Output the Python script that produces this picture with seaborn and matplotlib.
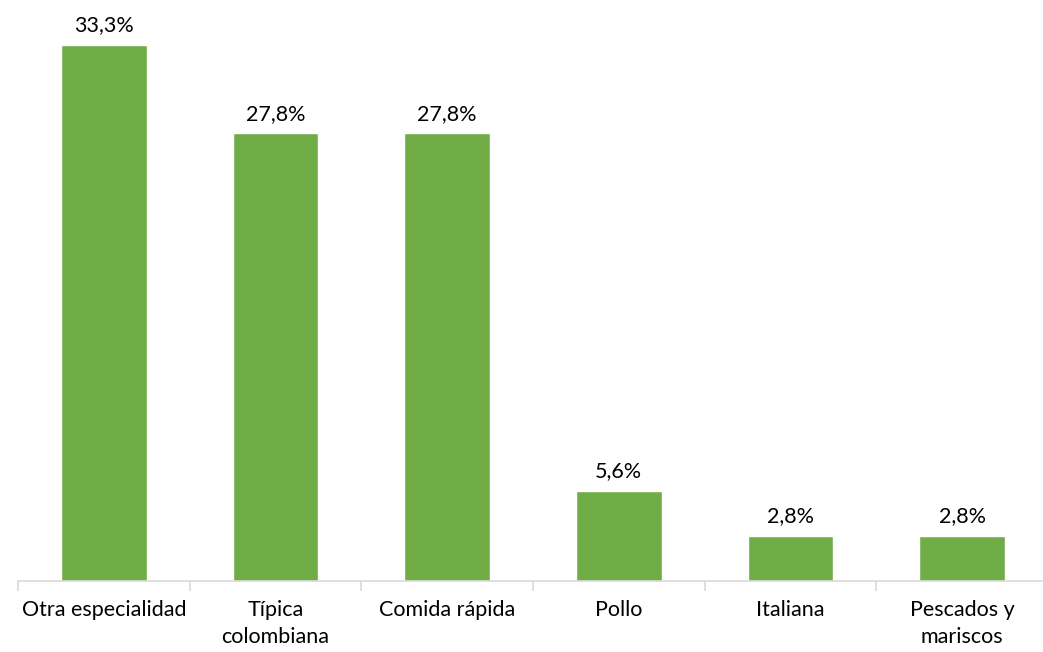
import matplotlib
matplotlib.use("Agg")
import matplotlib.pyplot as plt
import seaborn as sns
import pandas as pd
import numpy as np

categories = ["Otra especialidad", "Típica\ncolombiana", "Comida rápida", "Pollo", "Italiana", "Pescados y\nmariscos"]
values = [33.3, 27.8, 27.8, 5.6, 2.8, 2.8]
labels = ["33,3%", "27,8%", "27,8%", "5,6%", "2,8%", "2,8%"]

sns.set_theme(style="white")
plt.rcParams['font.family'] = ['Lato', 'DejaVu Sans']

fig = plt.figure(figsize=(10.43, 6.52), dpi=100)
ax = fig.add_axes([18/1043, 1 - 581/652, 1030/1043, 563.5/652])

df = pd.DataFrame({"cat": categories, "val": values})
sns.barplot(data=df, x="cat", y="val", color="#70AD47", saturation=1, width=0.5, ax=ax)

ax.set_ylim(0, 35)
ax.set_xlim(-0.5, len(categories) - 0.5)
for i, (v, lab) in enumerate(zip(values, labels)):
    ax.text(i, v + 0.6, lab, ha="center", va="bottom", fontsize=15.5, color="#000000")

for s in ["top", "right", "left"]:
    ax.spines[s].set_visible(False)
ax.spines["bottom"].set_color("#D9D9D9")
ax.spines["bottom"].set_linewidth(1.2)
ax.set_yticks([])
ax.set_xlabel("")
ax.set_ylabel("")
ax.tick_params(axis="x", which="major", length=0, labelsize=15.5, labelcolor="#000000", pad=14)
for t in ax.get_xticklabels():
    t.set_linespacing(1.4)
ax.set_xticks(np.arange(-0.5, len(categories), 1.0), minor=True)
ax.tick_params(axis="x", which="minor", length=7, width=1.2, color="#D9D9D9", bottom=True)

fig.savefig("out.png", dpi=100)
